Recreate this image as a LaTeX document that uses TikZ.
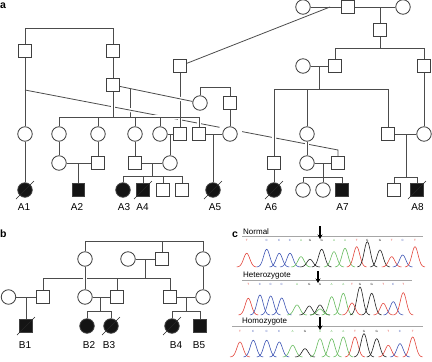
\documentclass[tikz,border=0pt]{standalone}
\usepackage{fontspec}
\setmainfont{Liberation Sans}
\usetikzlibrary{calc,arrows.meta}
\pgfdeclarelayer{lines}
\pgfsetlayers{lines,main}
\definecolor{tred}{HTML}{E2463C}
\definecolor{tblue}{HTML}{3E55B4}
\definecolor{tgreen}{HTML}{66BB5E}
\definecolor{tblack}{HTML}{202020}
\tikzset{
  male/.style={draw=black!75,line width=0.8pt,fill=white,rectangle,minimum size=12.5pt,inner sep=0pt},
  female/.style={draw=black!75,line width=0.8pt,fill=white,circle,minimum size=14.5pt,inner sep=0pt},
  maleaff/.style={male,fill=black!92},
  femaleaff/.style={female,fill=black!92},
  halo/.style={preaction={draw=white,line width=4pt}},
  slash/.style={draw=black!85,line width=0.7pt},
  lab/.style={anchor=base,inner sep=0pt,font=\fontsize{10}{12}\selectfont},
  panel/.style={anchor=base west,inner sep=0pt,font=\bfseries\fontsize{10.5}{12}\selectfont},
  seqname/.style={anchor=base west,inner sep=0pt,font=\fontsize{8}{9}\selectfont},
  mut/.style={line width=1.3pt,-{Stealth[length=4.5pt,width=5pt]}},
  trace/.style={line width=0.6pt},
  base/.style={inner sep=0pt,font=\fontsize{3}{3}\selectfont}
}
\begin{document}
\begin{tikzpicture}[x=1pt,y=-1pt]
\useasboundingbox (0,0) rectangle (432,362);

% a
\node[panel] (pa) at (0,8) {a};
\node[female] (r1) at (303,7) {};
\node[male] (r2) at (348,7) {};
\node[female] (r3) at (403,7) {};
\node[male] (r4) at (380,30) {};
\node[female] (r5) at (303,66) {};
\node[male] (r6) at (335,66) {};
\node[male] (r7) at (424,66) {};
\node[female] (r9) at (307,134) {};
\node[male] (r10) at (388,134) {};
\node[female] (r11) at (424,134) {};
\node[male] (r8) at (274,163) {};
\node[female] (r12) at (307,163) {};
\node[male] (r13) at (338,163) {};
\node[female] (r14) at (303,190) {};
\node[female] (r15) at (323,190) {};
\node[maleaff] (A7) at (342,190) {};
\node[femaleaff] (A6) at (274,190) {};
\node[male] (r16) at (394,190) {};
\node[maleaff] (A8) at (417,190) {};

\node[male] (l1) at (25,51) {};
\node[male] (l2) at (113,51) {};
\node[male] (l3) at (180,66) {};
\node[male] (l4) at (113,85) {};
\node[female] (l5) at (200,103) {};
\node[male] (l6) at (230,103) {};
\node[female] (l7) at (25,134) {};
\node[female] (l8) at (59,134) {};
\node[female] (l9) at (98,134) {};
\node[female] (l10) at (135,134) {};
\node[female] (l11) at (160,134) {};
\node[male] (l12) at (180,134) {};
\node[male] (l13) at (199,134) {};
\node[female] (l14) at (230,134) {};
\node[female] (l15) at (59,163) {};
\node[male] (l16) at (98,163) {};
\node[male] (l17) at (135,163) {};
\node[female] (l18) at (170,163) {};
\node[femaleaff] (A1) at (25,190) {};
\node[maleaff] (A2) at (78.5,190) {};
\node[femaleaff] (A3) at (123,190) {};
\node[maleaff] (A4) at (143,190) {};
\node[male] (l19) at (163,190) {};
\node[male] (l20) at (182,190) {};
\node[femaleaff] (A5) at (213,190) {};

\coordinate (j1) at (330,7);
\coordinate (j2) at (380,7);
\coordinate (s1a) at (335,48);
\coordinate (s1b) at (424,48);
\coordinate (m1) at (319,66);
\coordinate (s2a) at (274,89);
\coordinate (s2b) at (388,89);
\coordinate (m2) at (406,134);
\coordinate (s3a) at (394,177);
\coordinate (s3b) at (417,177);
\coordinate (m3) at (323,163);
\coordinate (s4a) at (303,177);
\coordinate (s4b) at (342,177);
\coordinate (d1) at (25,90);
\coordinate (d2) at (338,150);
\coordinate (t1) at (25,28);
\coordinate (t2) at (113,28);
\coordinate (t3) at (200,87);
\coordinate (t4) at (230,87);
\coordinate (s5a) at (59,117);
\coordinate (s5b) at (199,117);
\coordinate (m4) at ($(l4)!0.2!(l5)$);
\coordinate (m5) at (78.5,163);
\coordinate (m6) at (170,134);
\coordinate (m7) at (152.5,163);
\coordinate (s6a) at (123,176);
\coordinate (s6b) at (182,176);
\coordinate (m8) at (213,134);

% b
\node[panel] (pb) at (0,237) {b};
\node[female] (b1) at (85,259) {};
\node[female] (b2) at (128,259) {};
\node[male] (b3) at (162,259) {};
\node[female] (b4) at (203,259) {};
\node[female] (b5) at (8.5,297) {};
\node[male] (b6) at (43,297) {};
\node[female] (b7) at (85,297) {};
\node[male] (b8) at (117,297) {};
\node[male] (b9) at (170,297) {};
\node[female] (b10) at (203,297) {};
\node[maleaff] (B1) at (26,326) {};
\node[femaleaff] (B2) at (87,326) {};
\node[femaleaff] (B3) at (111,326) {};
\node[femaleaff] (B4) at (172,326) {};
\node[maleaff] (B5) at (200,326) {};

\coordinate (u1) at (85,241);
\coordinate (u2) at (203,241);
\coordinate (n1) at (145,259);
\coordinate (v1) at (43,278);
\coordinate (v2) at (170,278);
\coordinate (n2) at (26,297);
\coordinate (n3) at (100,297);
\coordinate (v3) at (87,311);
\coordinate (v4) at (111,311);
\coordinate (n4) at (186,297);
\coordinate (v5) at (172,311);
\coordinate (v6) at (200,311);

\begin{pgfonlayer}{lines}
\begin{scope}[draw=black!70,line width=0.8pt]
\draw (d1) -- (d2) -- (r13);
\fill[white] (l14) circle[radius=12.5pt];
\draw[halo] (s5a) -- (s5b);
\draw[halo] (l4) -- (l4 |- s5a);
\draw[halo] (l3) -- (l12);
\draw[halo] (l13) -- (l13 |- s5a);
\draw[halo] (s2a) -- (r8);
\draw[halo] (r9) -- (r12);
\draw (s5a) -- (s5b);
\draw[halo] (l4) -- (l5);
\draw (m4) -- (m4 |- s5a);
\begin{scope}
\clip (124,100) rectangle (138,120);
\draw[halo] (d1) -- (d2);
\end{scope}

\draw (r1) -- (r2) -- (r3);
\draw (j1) -- (l3);
\draw (j2) -- (r4);
\draw (r4) -- (r4 |- s1a);
\draw (r6) -- (s1a) -- (s1b) -- (r7);
\draw (r5) -- (r6);
\draw (m1) -- (m1 |- s2a);
\draw (s2a) -- (s2b) -- (r10);
\draw (r9) -- (r9 |- s2a);
\draw (r7) -- (r11);
\draw (r10) -- (r11);
\draw (m2) -- (m2 |- s3a);
\draw (r16) -- (s3a) -- (s3b) -- (A8);
\draw (r12) -- (r13);
\draw (m3) -- (m3 |- s4a);
\draw (r14) -- (s4a) -- (s4b) -- (A7);
\draw (r15) -- (r15 |- s4a);
\draw (r8) -- (A6);

\draw (l1) -- (t1) -- (t2) -- (l2);
\draw (l1) -- (l7);
\draw (l7) -- (A1);
\draw (l2) -- (l4);
\draw (l8) -- (l8 |- s5a);
\draw (l9) -- (l9 |- s5a);
\draw (l10) -- (l10 |- s5a);
\draw (l11) -- (l11 |- s5a);
\draw (l5) -- (t3) -- (t4) -- (l6);
\draw (l6) -- (l14);
\draw (l8) -- (l15);
\draw (l9) -- (l16);
\draw (l15) -- (l16);
\draw (m5) -- (A2);
\draw (l10) -- (l17);
\draw (l11) -- (l12);
\draw (m6) -- (l18);
\draw (l17) -- (l18);
\draw (m7) -- (m7 |- s6a);
\draw (A3) -- (s6a) -- (s6b) -- (l20);
\draw (A4) -- (A4 |- s6a);
\draw (l19) -- (l19 |- s6a);
\draw (l13) -- (l14);
\draw (m8) -- (A5);

\draw (b1) -- (u1) -- (u2) -- (b4);
\draw (b3) -- (b3 |- u1);
\draw (b2) -- (b3);
\draw (n1) -- (n1 |- v1);
\draw (v1) -- (v2);
\draw[halo] (b1) -- (b7);
\draw (b6) -- (v1);
\draw (v2) -- (b9);
\draw (b8) -- (b8 |- v1);
\draw (b4) -- (b10);
\draw (b5) -- (b6);
\draw (n2) -- (B1);
\draw (b7) -- (b8);
\draw (n3) -- (n3 |- v3);
\draw (B2) -- (v3) -- (v4) -- (B3);
\draw (b9) -- (b10);
\draw (n4) -- (n4 |- v5);
\draw (B4) -- (v5) -- (v6) -- (B5);
\end{scope}
\end{pgfonlayer}

\foreach \d in {A1,A4,A5,A6,A8,B1,B3,B4}
  \draw[slash] (\d.center) ++(-9,9) -- ++(18,-18);

\node[lab] (la1) at (24,210) {A1};
\node[lab] (la2) at (77,210) {A2};
\node[lab] (la3) at (124,210) {A3};
\node[lab] (la4) at (142.5,210) {A4};
\node[lab] (la5) at (215,210) {A5};
\node[lab] (la6) at (271,210) {A6};
\node[lab] (la7) at (342.5,210) {A7};
\node[lab] (la8) at (417.5,210) {A8};
\node[lab] (lb1) at (25,348) {B1};
\node[lab] (lb2) at (89,348) {B2};
\node[lab] (lb3) at (109,348) {B3};
\node[lab] (lb4) at (176,348) {B4};
\node[lab] (lb5) at (199,348) {B5};

% c
\node[panel] (pc) at (232,237) {c};
\node[seqname] (normal) at (243,234) {Normal};
\node[seqname] (hetero) at (243,277) {Heterozygote};
\node[seqname] (homo) at (242,323) {Homozygote};
\draw[black!35,line width=1pt] (242,236) -- (423,236);
\draw[black!35,line width=1pt] (242,280) -- (412,280);
\draw[black!35,line width=1pt] (232,326) -- (423,326);
\draw[mut] (320,226) -- (320,239);
\draw[mut] (318,271) -- (318,283);
\draw[mut] (320,317) -- (320,330);

\foreach \px/\ph/\pc/\pl [count=\i] in {246.7/13.7/tred/T, 266.7/17.7/tblue/C, 279.3/13.7/tblue/C, 290/13.7/tblue/C, 301/10.3/tgreen/A, 310/7.7/tblack/G, 321.7/17.7/tblack/G, 334/15.3/tgreen/A, 345/18.7/tgreen/A, 356.7/20.3/tred/T, 367.3/25.3/tblack/G, 380/17/tblack/G, 391.7/10.3/tred/T, 402.7/12/tblue/C, 415/20.3/tred/T}{
  \pgfmathsetmacro\lo{\px-10}
  \pgfmathsetmacro\hi{\px+10}
  \draw[trace,\pc] plot[variable=\q,domain=\lo:\hi,samples=31,smooth] (\q,{267-\ph*exp(-((\q-\px)*(\q-\px))/19)});
  \node[base,text=\pc] (na\i) at (\px,240) {\pl};
}
\foreach \px/\ph/\pc/\pl [count=\i] in {248.3/16.7/tred/T, 260/20/tblue/C, 270.7/19/tblue/C, 281.7/17/tblue/C, 297/10/tgreen/A, 309.3/9/tblack/G, 320/10/tblack/G, 320/6/tgreen/{}, 331.7/18.3/tgreen/A, 343.3/21.7/tgreen/A, 352/12/tred/T, 360/28/tblack/G, 371.7/21.7/tblack/G, 383.3/11.7/tred/T, 393.3/13.3/tblue/C, 403.3/22.3/tred/T}{
  \pgfmathsetmacro\lo{\px-10}
  \pgfmathsetmacro\hi{\px+10}
  \draw[trace,\pc] plot[variable=\q,domain=\lo:\hi,samples=31,smooth] (\q,{315-\ph*exp(-((\q-\px)*(\q-\px))/19)});
  \node[base,text=\pc] (nb\i) at (\px,284) {\pl};
}
\foreach \px/\ph/\pc/\pl [count=\i] in {240/15/tred/T, 253.3/16.7/tblue/C, 266.7/16.7/tblue/C, 279.3/15/tblue/C, 292.7/11.7/tgreen/A, 305/8.3/tblack/G, 320/18.3/tgreen/A, 331.7/18.3/tgreen/A, 343.3/20/tgreen/A, 355/20/tred/T, 364/23.3/tblack/G, 376.7/18.3/tblack/G, 388.3/11.7/tred/T, 400/13.3/tblue/C, 412.7/20/tred/T}{
  \pgfmathsetmacro\lo{\px-10}
  \pgfmathsetmacro\hi{\px+10}
  \draw[trace,\pc] plot[variable=\q,domain=\lo:\hi,samples=31,smooth] (\q,{357-\ph*exp(-((\q-\px)*(\q-\px))/19)});
  \node[base,text=\pc] (nc\i) at (\px,331) {\pl};
}
\end{tikzpicture}
\end{document}
